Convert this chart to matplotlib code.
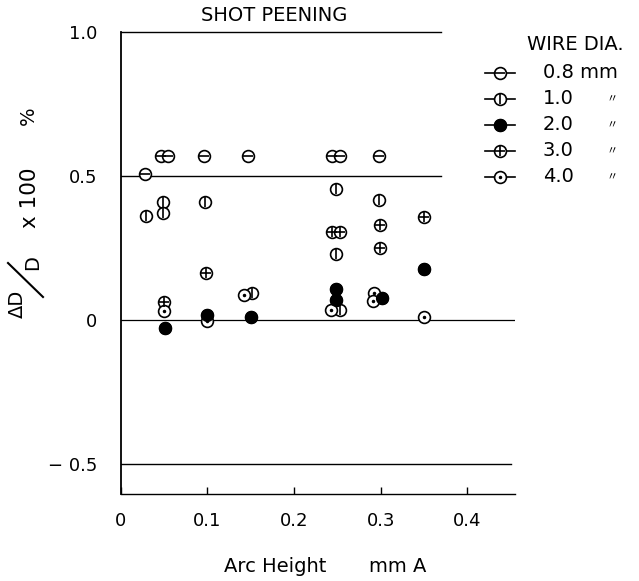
import numpy as np
import matplotlib
matplotlib.use("Agg")
import matplotlib.pyplot as plt
from matplotlib.lines import Line2D

plt.rcParams['font.family'] = ['DejaVu Sans', 'Noto Sans CJK JP']

# values (arc height mm A, dD/D x 100 %)
wire_labels = ["0.8 mm", "1.0", "2.0", "3.0", "4.0"]

d08_x = [0.028, 0.046, 0.054, 0.096, 0.147, 0.244, 0.253, 0.298]
d08_y = [0.505, 0.57, 0.57, 0.57, 0.57, 0.57, 0.57, 0.57]

d10_x = [0.029, 0.049, 0.049, 0.097, 0.151, 0.248, 0.248, 0.298, 0.253]
d10_y = [0.36, 0.41, 0.37, 0.41, 0.095, 0.455, 0.23, 0.415, 0.035]

d20_x = [0.051, 0.099, 0.150, 0.248, 0.248, 0.302, 0.350]
d20_y = [-0.028, 0.017, 0.010, 0.107, 0.070, 0.077, 0.177]

d30_x = [0.050, 0.098, 0.244, 0.253, 0.299, 0.299, 0.350]
d30_y = [0.063, 0.163, 0.305, 0.305, 0.330, 0.250, 0.358]

d40_x = [0.050, 0.099, 0.142, 0.243, 0.292, 0.291, 0.350]
d40_y = [0.030, -0.003, 0.085, 0.035, 0.093, 0.067, 0.010]

x_ticks = [0, 0.1, 0.2, 0.3, 0.4]
x_ticklabels = ["0", "0.1", "0.2", "0.3", "0.4"]
y_ticks = [1.0, 0.5, 0, -0.5]
y_ticklabels = ["1.0", "0.5", "0", "\u2212 0.5"]

W, H = 639, 581
fig = plt.figure(figsize=(6.39, 5.81), dpi=100)
ax = fig.add_axes([0.189, 0.150, 0.617, 0.795])
ax.set_xlim(0, 0.455)
ax.set_ylim(-0.604, 1.0)

for s in ['top', 'right']:
    ax.spines[s].set_visible(False)
ax.spines['left'].set_linewidth(1.3)
ax.spines['bottom'].set_linewidth(1.0)

# reference lines
ax.plot([0, 0.369], [1.0, 1.0], color='black', lw=1.0, clip_on=False, zorder=1)
ax.plot([0, 0.369], [0.5, 0.5], color='black', lw=1.0, zorder=1)
ax.plot([0, 0.455], [0, 0], color='black', lw=0.9, zorder=1)
ax.plot([0, 0.450], [-0.5, -0.5], color='black', lw=1.0, zorder=1)

ms = 8.5
ring = dict(marker='o', ms=ms, mfc='white', mec='black', mew=1.2, ls='none', zorder=3)


def draw_series(a, xs, ys, inner):
    a.plot(xs, ys, **ring)
    if inner == 'fill':
        a.plot(xs, ys, marker='o', ms=ms, mfc='black', mec='black', ls='none', zorder=4)
    elif inner == 'dot':
        a.plot(xs, ys, marker='.', ms=3, color='black', ls='none', zorder=4)
    else:
        a.plot(xs, ys, marker=inner, ms=ms - 1, mec='black', mew=1.2, ls='none', zorder=4)


series = [(d08_x, d08_y, '_'), (d10_x, d10_y, '|'), (d20_x, d20_y, 'fill'),
          (d30_x, d30_y, '+'), (d40_x, d40_y, 'dot')]
for xs, ys, inner in series:
    draw_series(ax, xs, ys, inner)

ax.set_xticks(x_ticks)
ax.set_xticklabels(x_ticklabels)
ax.set_yticks(y_ticks)
ax.set_yticklabels(y_ticklabels)
ax.tick_params(axis='x', direction='in', length=5, width=1, pad=13, labelsize=13)
ax.tick_params(axis='y', length=0, pad=17, labelsize=13)

ax.set_title("SHOT PEENING", fontsize=14, pad=8, x=0.39)
fig.text(275 / W, 1 - 567 / H, "Arc Height", fontsize=14, ha='center', va='center')
fig.text(398 / W, 1 - 567 / H, "mm A", fontsize=14, ha='center', va='center')

# y axis label, built as a slashed fraction  (dD / D) x 100  %
fig.text(17 / W, 1 - 304 / H, "\u0394D", rotation=90, fontsize=14, ha='center', va='center')
fig.text(33 / W, 1 - 263 / H, "D", rotation=90, fontsize=14, ha='center', va='center')
fig.add_artist(Line2D([8 / W, 43 / W], [1 - 263 / H, 1 - 297 / H], color='black', lw=1.5))
fig.text(30 / W, 1 - 198 / H, "x 100", rotation=90, fontsize=15.5, ha='center', va='center')
fig.text(28 / W, 1 - 116 / H, "%", rotation=90, fontsize=14, ha='center', va='center')

# legend drawn by hand at right side
fig.text(527 / W, 1 - 45 / H, "WIRE DIA.", fontsize=14, va='center')
row_y = [73, 99, 125, 151, 177]
inners = ['_', '|', 'fill', '+', 'dot']
for i, (lab, py, inner) in enumerate(zip(wire_labels, row_y, inners)):
    yf = 1 - py / H
    fig.add_artist(Line2D([485 / W, 515 / W], [yf, yf], color='black', lw=1.2))
    xf = 500 / W
    fig.add_artist(Line2D([xf], [yf], marker='o', ms=ms, mfc='white', mec='black', mew=1.2))
    if inner == 'fill':
        fig.add_artist(Line2D([xf], [yf], marker='o', ms=ms, mfc='black', mec='black'))
    elif inner == 'dot':
        fig.add_artist(Line2D([xf], [yf], marker='.', ms=3, color='black'))
    else:
        fig.add_artist(Line2D([xf], [yf], marker=inner, ms=ms - 1, mec='black', mew=1.2))
    fig.text(543 / W, yf, lab, fontsize=14, va='center')
    if i > 0:
        # ditto mark for "mm"
        fig.text(612 / W, yf, "\u3003", fontsize=8, ha='center', va='center')

fig.savefig("out.png", dpi=100)
